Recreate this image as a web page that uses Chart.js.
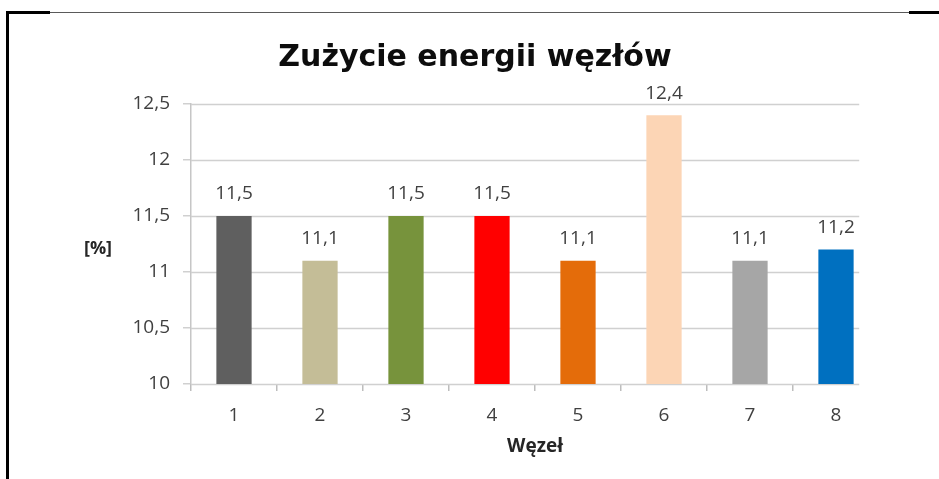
<!DOCTYPE html>
<html>
<head>
<meta charset="utf-8">
<script src="https://cdn.jsdelivr.net/npm/chart.js@4/dist/chart.umd.min.js"></script>
<style>
  html, body { margin: 0; padding: 0; background: #fff; }
  #wrap { position: relative; width: 939px; height: 479px; overflow: hidden; }
  canvas { position: absolute; left: 0; top: 0; }
  .frame { position: absolute; }
</style>
</head>
<body>
<div id="wrap">
  <canvas id="c" width="939" height="479"></canvas>
  <div class="frame" style="left:50px; top:12px; width:859px; height:1px; background:#5a5a5a;"></div>
  <div class="frame" style="left:6px; top:11px; width:44px; height:3px; background:#000;"></div>
  <div class="frame" style="left:909px; top:11px; width:30px; height:3px; background:#000;"></div>
  <div class="frame" style="left:6px; top:11px; width:3px; height:468px; background:#000;"></div>
</div>
<script>
const TITLE = 'Zużycie energii węzłów';
const X_TITLE = 'Węzeł';
const Y_TITLE = '[%]';
const categories = ['1', '2', '3', '4', '5', '6', '7', '8'];
const values = [11.5, 11.1, 11.5, 11.5, 11.1, 12.4, 11.1, 11.2];
const barColors = ['#5f5f5f', '#c4bd97', '#77933c', '#ff0000', '#e46c0a', '#fcd5b5', '#a6a6a6', '#0070c0'];
const yMin = 10, yMax = 12.5, yStep = 0.5;

const FONT = '"Open Sans", Lato, sans-serif';
const TITLE_FONT = '"DejaVu Sans", "Open Sans", sans-serif';
const TXT = '#404040';
const GRID = '#d0d0d0';
const fmt = v => String(v).replace('.', ',');

function gridEnd(chart) {
  const x = chart.scales.x;
  const last = categories.length - 1;
  const w = x.getPixelForValue(last) - x.getPixelForValue(last - 1);
  return x.getPixelForValue(last) + w * 0.27;
}

const decor = {
  id: 'decor',
  beforeDatasetsDraw(chart) {
    const ctx = chart.ctx, y = chart.scales.y, ca = chart.chartArea;
    const right = gridEnd(chart);
    ctx.save();
    ctx.strokeStyle = GRID;
    ctx.lineWidth = 1.5;
    y.ticks.forEach(t => {
      const py = Math.round(y.getPixelForValue(t.value)) + 0.5;
      ctx.beginPath();
      ctx.moveTo(ca.left, py);
      ctx.lineTo(right, py);
      ctx.stroke();
    });
    ctx.restore();
  },
  afterDatasetsDraw(chart) {
    const ctx = chart.ctx, ca = chart.chartArea;
    const meta = chart.getDatasetMeta(0);
    ctx.save();
    ctx.fillStyle = TXT;
    ctx.font = '19px ' + FONT;
    ctx.textAlign = 'center';
    ctx.textBaseline = 'middle';
    meta.data.forEach((bar, i) => {
      ctx.fillText(fmt(values[i]), bar.x, bar.y - 22);
    });
    ctx.font = 'bold 18px ' + FONT;
    ctx.fillStyle = '#262626';
    ctx.fillText(Y_TITLE, ca.left - 93, (ca.top + ca.bottom) / 2 + 5);
    ctx.restore();
  }
};

new Chart(document.getElementById('c'), {
  type: 'bar',
  data: {
    labels: categories,
    datasets: [{
      data: values,
      backgroundColor: barColors,
      borderWidth: 0,
      barPercentage: 0.41,
      categoryPercentage: 1
    }]
  },
  options: {
    responsive: false,
    animation: false,
    devicePixelRatio: 1,
    layout: { padding: { left: 71, right: 60, top: 0, bottom: 0 } },
    plugins: {
      legend: { display: false },
      tooltip: { enabled: false },
      title: {
        display: true,
        text: TITLE,
        color: '#0d0d0d',
        font: { family: TITLE_FONT, size: 30, weight: 'bold' },
        padding: { top: 40, bottom: 28 }
      }
    },
    scales: {
      x: {
        grid: {
          display: true,
          offset: true,
          drawOnChartArea: false,
          drawTicks: true,
          tickLength: 7,
          tickColor: c => (c.index === undefined || c.index >= categories.length ? 'rgba(0,0,0,0)' : '#bdbdbd'),
          lineWidth: 1.5
        },
        border: { display: false },
        ticks: { color: TXT, font: { family: FONT, size: 19 }, padding: 13 },
        title: {
          display: true,
          text: X_TITLE,
          color: '#262626',
          font: { family: FONT, size: 19, weight: 'bold' },
          padding: { top: 0, bottom: 21 }
        },
        afterFit: s => { s.height = 95; }
      },
      y: {
        min: yMin,
        max: yMax,
        grid: {
          display: true,
          drawOnChartArea: false,
          drawTicks: true,
          tickLength: 8,
          tickColor: GRID,
          lineWidth: 1.5
        },
        border: { display: true, color: '#c6c6c6', width: 1.5 },
        ticks: {
          stepSize: yStep,
          color: TXT,
          font: { family: FONT, size: 19 },
          padding: 13,
          callback: v => fmt(v)
        },
        afterFit: s => { s.width = 120; }
      }
    }
  },
  plugins: [decor]
});
</script>
</body>
</html>
